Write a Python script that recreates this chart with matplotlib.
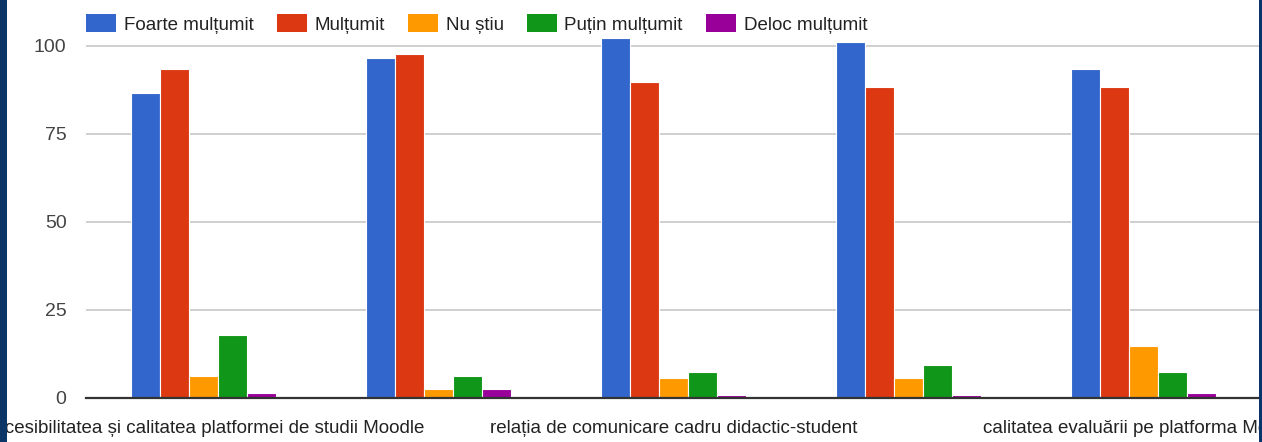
import matplotlib
matplotlib.use('Agg')
import matplotlib.pyplot as plt
from matplotlib import font_manager
from matplotlib.patches import Patch, Rectangle
import numpy as np

categories = [
    "Accesibilitatea și calitatea platformei de studii Moodle",
    "",
    "relația de comunicare cadru didactic-student",
    "",
    "calitatea evaluării pe platforma Moodle",
]
series_names = ["Foarte mulțumit", "Mulțumit", "Nu știu", "Puțin mulțumit", "Deloc mulțumit"]
foarte = [86.7, 96.5, 102.3, 101.2, 93.5]
multumit = [93.5, 97.6, 89.8, 88.4, 88.4]
nu_stiu = [6.2, 2.6, 5.6, 5.6, 14.9]
putin = [17.9, 6.2, 7.5, 9.3, 7.5]
deloc = [1.4, 2.5, 0.9, 0.8, 1.5]
yticks = [0, 25, 50, 75, 100]

colors = ['#3366cc', '#dc3912', '#ff9900', '#109618', '#990099']

# condensed font if we have one, otherwise a smaller regular one
names = {f.name for f in font_manager.fontManager.ttflist}
if 'Liberation Sans Narrow' in names:
    fam, fs = 'Liberation Sans Narrow', 16
else:
    fam, fs = 'Liberation Sans', 13.5
plt.rcParams['font.family'] = [fam, 'DejaVu Sans']

W, H = 1262, 442
fig = plt.figure(figsize=(W / 100, H / 100), dpi=100)
fig.patch.set_facecolor('white')

ax_left, ax_right, ax_bottom = 86, 1261, 44
ax = fig.add_axes([ax_left / W, ax_bottom / H, (ax_right - ax_left) / W, (H - ax_bottom) / H])

values = [foarte, multumit, nu_stiu, putin, deloc]
n = len(values)
slot = 0.1234
x = np.arange(len(categories)) + 0.5
for i, vals in enumerate(values):
    offs = (i - (n - 1) / 2) * slot
    ax.bar(x + offs, vals, width=slot, color=colors[i], edgecolor='white', linewidth=0.8, zorder=3)

ax.set_xlim(0, len(categories))
ax.set_ylim(0, (H - ax_bottom) / 3.52)
ax.set_yticks(yticks)
ax.set_yticklabels([str(v) for v in yticks], fontsize=fs + 0.5, color='#444444')
ax.tick_params(axis='y', length=0, pad=14)

shown = [i for i, c in enumerate(categories) if c]
ax.set_xticks(x[shown])
ax.set_xticklabels([categories[i] for i in shown], fontsize=fs, color='#222222')
ax.tick_params(axis='x', length=0, pad=16)

for s in ['top', 'right', 'left']:
    ax.spines[s].set_visible(False)
ax.spines['bottom'].set_color('#333333')
ax.spines['bottom'].set_linewidth(1.6)
ax.spines['bottom'].set_zorder(4)
for v in yticks[1:]:
    ax.axhline(v, color='#cccccc', linewidth=1.3, zorder=1)

handles = [Patch(facecolor=c, edgecolor='none') for c in colors]
fig.legend(handles, series_names, loc='center left',
           bbox_to_anchor=(ax_left / W, 1 - 24 / H), ncol=5, frameon=False,
           fontsize=fs, handlelength=1.6, handleheight=1.1, handletextpad=0.4,
           columnspacing=1.25, borderpad=0, borderaxespad=0, labelcolor='#222222')

# dark frame on the sides of the screenshot
navy = '#0b3566'
fig.patches.append(Rectangle((0, 0), 7 / W, 1, transform=fig.transFigure,
                             facecolor=navy, edgecolor='none', zorder=10))
fig.patches.append(Rectangle((1259 / W, 0), 3 / W, 1, transform=fig.transFigure,
                             facecolor=navy, edgecolor='none', zorder=10))

fig.savefig('out.png', dpi=100)
